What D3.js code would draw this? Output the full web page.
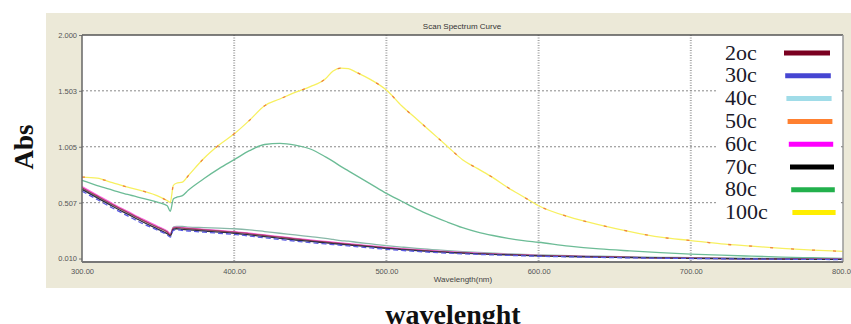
<!DOCTYPE html>
<html><head><meta charset="utf-8">
<script src="https://cdn.jsdelivr.net/npm/d3@7"></script>
<style>
html,body{margin:0;padding:0;background:#fff;}
svg{display:block;}
</style></head>
<body>
<svg id="chart" width="851" height="324"></svg>
<script>
// ---------- DATA ----------
const wavelengths = [300,310,320,330,340,350,356,358,360,362,366,370,380,390,400,410,420,430,440,450,460,465,470,475,480,490,500,510,520,530,540,550,560,570,580,590,600,620,640,660,680,700,720,740,760,780,800];

const abs20 = [0.64,0.565,0.49,0.42,0.35,0.285,0.245,0.22,0.28,0.285,0.28,0.275,0.265,0.255,0.245,0.23,0.215,0.2,0.185,0.17,0.157,0.15,0.143,0.137,0.131,0.118,0.105,0.094,0.084,0.075,0.067,0.06,0.054,0.049,0.044,0.04,0.036,0.03,0.025,0.02,0.016,0.013,0.01,0.008,0.006,0.004,0.003];
const abs30 = [0.61,0.535,0.46,0.39,0.32,0.26,0.22,0.2,0.26,0.265,0.26,0.255,0.245,0.235,0.225,0.21,0.195,0.18,0.165,0.152,0.14,0.134,0.128,0.122,0.116,0.104,0.092,0.082,0.073,0.065,0.058,0.052,0.047,0.042,0.038,0.034,0.03,0.025,0.02,0.016,0.013,0.01,0.008,0.006,0.004,0.002,0.001];
const abs40 = [0.63,0.56,0.49,0.42,0.355,0.29,0.25,0.225,0.29,0.295,0.295,0.29,0.285,0.28,0.275,0.265,0.25,0.235,0.22,0.205,0.19,0.18,0.17,0.165,0.155,0.14,0.125,0.112,0.1,0.09,0.08,0.072,0.065,0.058,0.052,0.047,0.043,0.036,0.03,0.025,0.021,0.018,0.015,0.012,0.01,0.008,0.006];
const abs50 = [0.735,0.725,0.685,0.645,0.61,0.565,0.525,0.51,0.66,0.68,0.69,0.75,0.9,1.02,1.12,1.24,1.37,1.43,1.49,1.54,1.61,1.68,1.705,1.7,1.67,1.6,1.51,1.37,1.25,1.13,1.01,0.89,0.81,0.73,0.64,0.56,0.48,0.38,0.31,0.25,0.2,0.17,0.14,0.12,0.1,0.085,0.074];
const abs60 = [0.65,0.575,0.5,0.43,0.36,0.295,0.255,0.23,0.285,0.29,0.285,0.28,0.27,0.26,0.25,0.235,0.22,0.205,0.19,0.175,0.162,0.155,0.148,0.142,0.136,0.123,0.11,0.098,0.088,0.079,0.071,0.064,0.058,0.052,0.047,0.042,0.038,0.031,0.026,0.021,0.017,0.014,0.011,0.009,0.007,0.005,0.004];
const abs70 = [0.625,0.55,0.475,0.405,0.335,0.27,0.23,0.21,0.27,0.275,0.27,0.265,0.255,0.245,0.235,0.22,0.205,0.19,0.175,0.162,0.15,0.143,0.137,0.131,0.125,0.113,0.1,0.09,0.08,0.072,0.064,0.058,0.052,0.047,0.042,0.038,0.034,0.028,0.023,0.019,0.015,0.012,0.009,0.007,0.005,0.003,0.002];
const abs80 = [0.705,0.66,0.62,0.58,0.545,0.51,0.48,0.43,0.54,0.555,0.57,0.62,0.72,0.81,0.89,0.97,1.025,1.035,1.02,0.985,0.915,0.875,0.83,0.79,0.75,0.67,0.59,0.52,0.45,0.39,0.335,0.285,0.245,0.215,0.19,0.17,0.155,0.12,0.095,0.078,0.063,0.05,0.04,0.031,0.023,0.017,0.012];
const abs100 = [0.735,0.725,0.685,0.645,0.61,0.565,0.525,0.51,0.66,0.68,0.69,0.75,0.9,1.02,1.12,1.24,1.37,1.43,1.49,1.54,1.61,1.68,1.705,1.7,1.67,1.6,1.51,1.37,1.25,1.13,1.01,0.89,0.81,0.73,0.64,0.56,0.48,0.38,0.31,0.25,0.2,0.17,0.14,0.12,0.1,0.085,0.074];

const seriesNames = ["2oc","30c","40c","50c","60c","70c","80c","100c"];
const seriesValues = [abs20, abs30, abs40, abs50, abs60, abs70, abs80, abs100];
const legendColors = ["#7a0020","#4646d2","#a0dce8","#ff8030","#ff00ff","#000000","#22b04c","#ffee00"];
const lineColors   = ["#a04060","#5a5ae0","#88b8a8","#f08040","#ff60e0","#303040","#6cbc96","#f7f060"];
const lineDash     = [null,"5,3",null,"3,18",null,null,null,null];

const yTicks = [0.010, 0.507, 1.005, 1.503, 2.000];
const xTicks = [300, 400, 500, 600, 700, 800];
const yGrid = [0.507, 1.005, 1.503];
const xGrid = [400, 500, 600, 700];

// ---------- LAYOUT ----------
const svg = d3.select("#chart");
const P = {left: 82, right: 843, top: 35, bottom: 262};
const x = d3.scaleLinear().domain([300, 800]).range([P.left, P.right]);
const y = d3.scaleLinear().domain([-0.021, 2.0]).range([P.bottom, P.top]);

// beige frame
svg.append("rect").attr("x", 46).attr("y", 13).attr("width", 805).attr("height", 275).attr("fill", "#ece9d8");
// plot area
svg.append("rect").attr("x", P.left).attr("y", P.top).attr("width", P.right - P.left).attr("height", P.bottom - P.top).attr("fill", "#fff");

// title
svg.append("text").attr("x", 462).attr("y", 29).attr("text-anchor", "middle")
  .attr("font-family", "Liberation Sans, Arial, sans-serif").attr("font-size", 8).attr("fill", "#333")
  .text("Scan Spectrum Curve");

// grid
const grid = svg.append("g");
grid.selectAll("line.vg").data(xGrid).join("line").attr("class", "vg")
  .attr("x1", d => x(d)).attr("x2", d => x(d)).attr("y1", P.top).attr("y2", P.bottom)
  .attr("stroke", "#a8a8a8").attr("stroke-width", 2).attr("stroke-dasharray", "1,1.5");
grid.selectAll("line.hg").data(yGrid).join("line").attr("class", "hg")
  .attr("x1", P.left).attr("x2", P.right).attr("y1", d => y(d)).attr("y2", d => y(d))
  .attr("stroke", "#888").attr("stroke-width", 1).attr("stroke-dasharray", "2,2");

// legend background (white box hides grid)
svg.append("rect").attr("x", 718).attr("y", 36).attr("width", 124).attr("height", 190).attr("fill", "#fff");

// axes
const yAxis = d3.axisLeft(y).tickValues(yTicks).tickFormat(d3.format(".3f")).tickSize(3).tickPadding(2);
const gy = svg.append("g").attr("transform", `translate(${P.left},0)`).call(yAxis);
const xAxis = d3.axisBottom(x).tickValues(xTicks).tickFormat(d3.format(".2f")).tickSize(0).tickPadding(7);
const gx = svg.append("g").attr("transform", `translate(0,${P.bottom})`).call(xAxis);
[gx, gy].forEach(g => {
  g.select(".domain").remove();
  g.selectAll("text").attr("font-family", "Liberation Sans, Arial, sans-serif").attr("font-size", 7.5).attr("fill", "#555");
  g.selectAll("line").attr("stroke", "#777");
});
// right-border small ticks
svg.selectAll("line.rt").data(yGrid).join("line").attr("class", "rt")
  .attr("x1", P.right - 2).attr("x2", P.right).attr("y1", d => y(d)).attr("y2", d => y(d)).attr("stroke", "#777");

svg.append("text").attr("x", 463).attr("y", 282).attr("text-anchor", "middle")
  .attr("font-family", "Liberation Sans, Arial, sans-serif").attr("font-size", 8).attr("fill", "#444")
  .text("Wavelength(nm)");

// curves
const line = d3.line().curve(d3.curveMonotoneX).x((d, i) => x(wavelengths[i])).y(d => y(d));
const drawOrder = [6, 2, 4, 0, 5, 1, 7, 3];
const curves = svg.append("g");
drawOrder.forEach(k => {
  curves.append("path").datum(seriesValues[k]).attr("d", line)
    .attr("fill", "none").attr("stroke", lineColors[k]).attr("stroke-width", 1.3)
    .attr("stroke-dasharray", lineDash[k]);
});

// plot border
svg.append("line").attr("x1", P.left).attr("x2", P.right).attr("y1", P.top).attr("y2", P.top).attr("stroke", "#555").attr("stroke-width", 1.5);
svg.append("line").attr("x1", P.right).attr("x2", P.right).attr("y1", P.top).attr("y2", P.bottom).attr("stroke", "#999").attr("stroke-width", 1.5);
svg.append("line").attr("x1", P.left).attr("x2", P.left).attr("y1", P.top).attr("y2", P.bottom).attr("stroke", "#666").attr("stroke-width", 1.5);
svg.append("line").attr("x1", P.left).attr("x2", P.right).attr("y1", P.bottom).attr("y2", P.bottom).attr("stroke", "#777").attr("stroke-width", 2);

// legend
const leg = svg.append("g");
seriesNames.forEach((name, i) => {
  const cy = 53 + i * 22.8;
  leg.append("text").attr("transform", `translate(725,${cy + 6.5}) scale(1.1,1)`)
    .attr("font-family", "Liberation Serif, Times New Roman, serif").attr("font-size", 20).attr("fill", "#1a1a2a")
    .text(name);
  leg.append("line").attr("x1", 784 + i * 1.2).attr("x2", 830 + i * 0.8).attr("y1", cy).attr("y2", cy)
    .attr("stroke", legendColors[i]).attr("stroke-width", 5);
});

// outer labels
svg.append("text").attr("transform", "translate(33,147) rotate(-90)").attr("text-anchor", "middle")
  .attr("font-family", "Liberation Serif, Times New Roman, serif").attr("font-weight", "bold").attr("font-size", 27).attr("fill", "#111")
  .text("Abs");
svg.append("text").attr("x", 453).attr("y", 324).attr("text-anchor", "middle")
  .attr("font-family", "Liberation Serif, Times New Roman, serif").attr("font-weight", "bold").attr("font-size", 28).attr("fill", "#111")
  .text("wavelenght");
</script>
</body></html>
